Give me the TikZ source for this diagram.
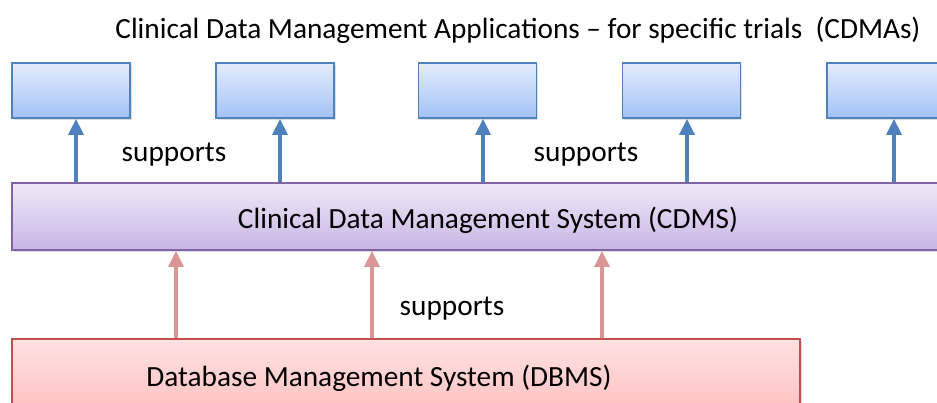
\documentclass[tikz,border=0pt]{standalone}
\usepackage{fontspec}
\setmainfont{Carlito}
\usetikzlibrary{arrows.meta,shadows}
\definecolor{appline}{HTML}{4F81BD}
\definecolor{apptop}{HTML}{E3EDFD}
\definecolor{appbot}{HTML}{A3C2F6}
\definecolor{cdmsline}{HTML}{8064A2}
\definecolor{cdmstop}{HTML}{F0E9F8}
\definecolor{cdmsbot}{HTML}{C8B5E4}
\definecolor{dbmsline}{HTML}{C0504D}
\definecolor{dbmstop}{HTML}{FFE2E2}
\definecolor{dbmsbot}{HTML}{FF9E9E}
\definecolor{dbmsarrow}{HTML}{D99694}
\begin{document}
\begin{tikzpicture}[x=1pt,y=1pt,
  font=\fontsize{29.3}{35}\selectfont,
  shade/.style={drop shadow={opacity=0.25,shadow xshift=1.5pt,shadow yshift=-2pt}},
  appbox/.style={draw=appline,line width=1.8pt,top color=apptop,bottom color=appbot,
    minimum width=118pt,minimum height=55pt,inner sep=0pt,shade},
  cdmsbox/.style={draw=cdmsline,line width=1.8pt,top color=cdmstop,bottom color=cdmsbot,
    minimum width=952pt,minimum height=67pt,inner sep=0pt,shade},
  dbmsbox/.style={draw=dbmsline,line width=1.8pt,top color=dbmstop,bottom color=dbmsbot,
    minimum width=788pt,minimum height=150pt,inner sep=0pt,shade},
  uparrow/.style={line width=3.6pt,draw=appline,-{Triangle[length=16pt,width=15pt]}},
  dbarrow/.style={line width=3.2pt,draw=dbmsarrow,-{Triangle[length=16pt,width=15pt]}}]
\useasboundingbox(0,0)rectangle(937,403);
% the three layers
\node[dbmsbox](dbms)at(406,-11){};
\node(dbmslbl)at(379,25){Database Management System (DBMS)};
\node[cdmsbox](cdms)at(488,186.5){};
\node(cdmslbl)at(488,183){Clinical Data Management System (CDMS)};
\foreach \i/\x in {1/71,2/275,3/477.5,4/681.5,5/886}
  \node[appbox](app\i)at(\x,312.5){};
\node(title)at(518,373){Clinical Data Management Applications -- for specific trials\ \ (CDMAs)};
% cdms up to the applications
\foreach \i/\x in {1/76,2/280,3/483,4/687,5/894}{
  \coordinate(c\i)at(\x,0);
  \draw[uparrow](cdms.north -| c\i)--(app\i.south -| c\i);
}
% dbms up to the cdms
\foreach \i/\x in {1/176,2/372,3/602}{
  \coordinate(d\i)at(\x,0);
  \draw[dbarrow](dbms.north -| d\i)--(cdms.south -| d\i);
}
\node(sup1)at(174,248){supports};
\node(sup2)at(586,248){supports};
\node(sup3)at(452,94){supports};
\end{tikzpicture}
\end{document}
